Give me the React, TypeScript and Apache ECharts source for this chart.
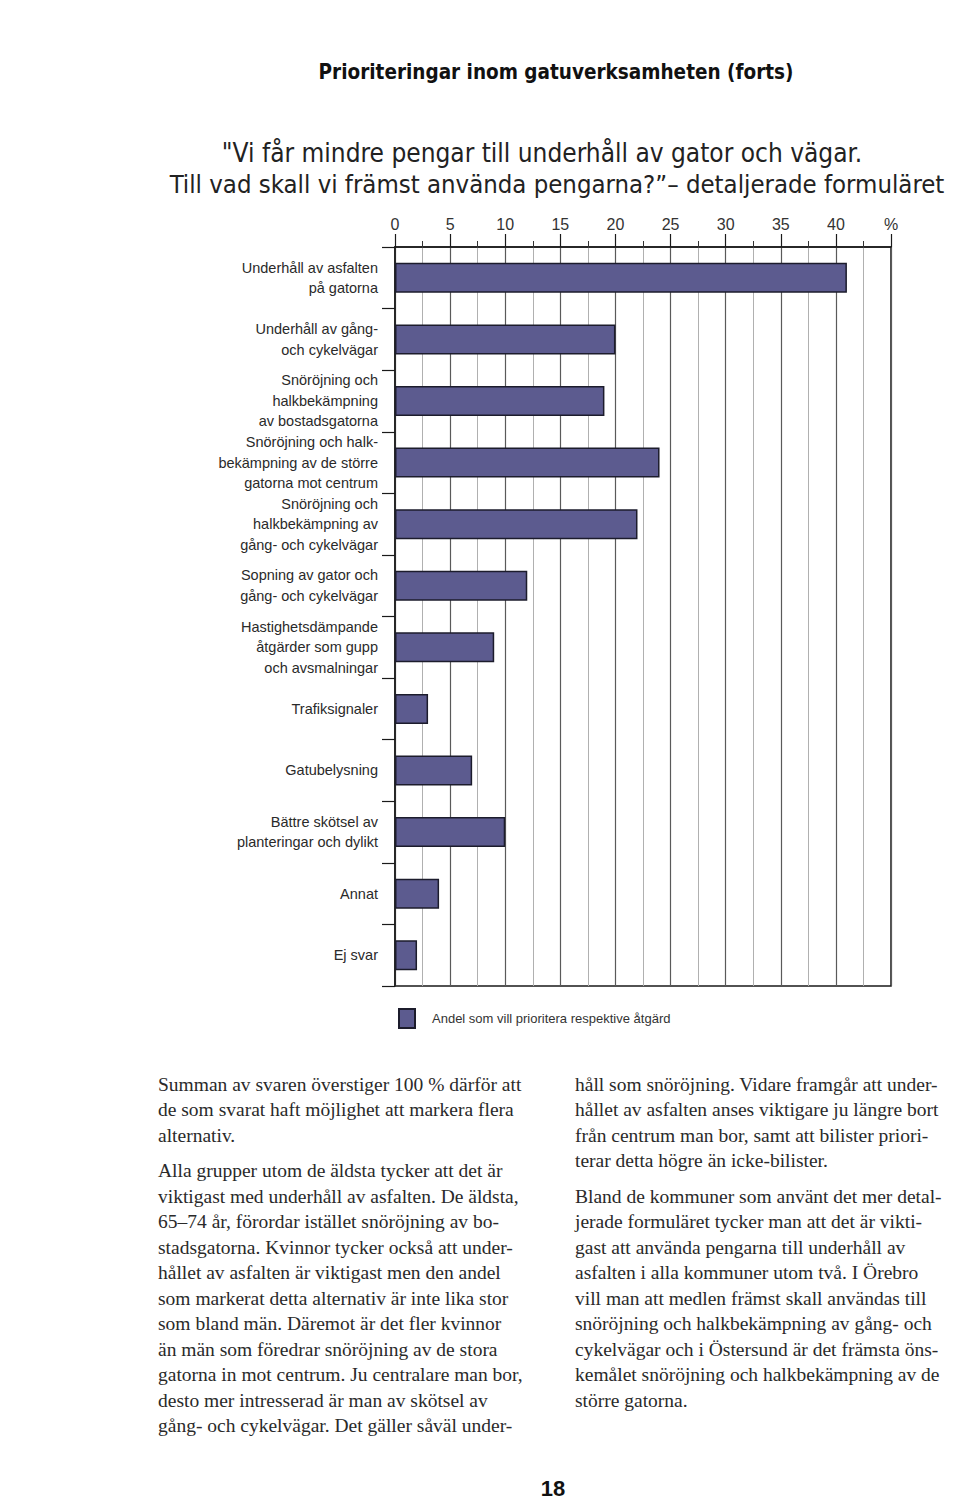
import React, { useEffect, useRef } from "react";
import * as echarts from "echarts";

const categories: string[] = [
  "Underhåll av asfalten\npå gatorna",
  "Underhåll av gång-\noch cykelvägar",
  "Snöröjning och\nhalkbekämpning\nav bostadsgatorna",
  "Snöröjning och halk-\nbekämpning av de större\ngatorna mot centrum",
  "Snöröjning och\nhalkbekämpning av\ngång- och cykelvägar",
  "Sopning av gator och\ngång- och cykelvägar",
  "Hastighetsdämpande\nåtgärder som gupp\noch avsmalningar",
  "Trafiksignaler",
  "Gatubelysning",
  "Bättre skötsel av\nplanteringar och dylikt",
  "Annat",
  "Ej svar",
];
const values: number[] = [41, 20, 19, 24, 22, 12, 9, 3, 7, 10, 4, 2];
const seriesName = "Andel som vill prioritera respektive åtgärd";
const axisMin = 0;
const axisMax = 45;
const axisStep = 5;
const unitLabel = "%";

const titleText = "Prioriteringar inom gatuverksamheten (forts)";
const subtitleLines: string[] = [
  "\"Vi får mindre pengar till underhåll av gator och vägar.",
  "Till vad skall vi främst använda pengarna?”– detaljerade formuläret",
];
const leftColumn: string[] = [
  "Summan av svaren överstiger 100 % därför att",
  "de som svarat haft möjlighet att markera flera",
  "alternativ.",
  "",
  "Alla grupper utom de äldsta tycker att det är",
  "viktigast med underhåll av asfalten. De äldsta,",
  "65–74 år, förordar istället snöröjning av bo-",
  "stadsgatorna. Kvinnor tycker också att under-",
  "hållet av asfalten är viktigast men den andel",
  "som markerat detta alternativ är inte lika stor",
  "som bland män. Däremot är det fler kvinnor",
  "än män som föredrar snöröjning av de stora",
  "gatorna in mot centrum. Ju centralare man bor,",
  "desto mer intresserad är man av skötsel av",
  "gång- och cykelvägar. Det gäller såväl under-",
];
const rightColumn: string[] = [
  "håll som snöröjning. Vidare framgår att under-",
  "hållet av asfalten anses viktigare ju längre bort",
  "från centrum man bor, samt att bilister priori-",
  "terar detta högre än icke-bilister.",
  "",
  "Bland de kommuner som använt det mer detal-",
  "jerade formuläret tycker man att det är vikti-",
  "gast att använda pengarna till underhåll av",
  "asfalten i alla kommuner utom två. I Örebro",
  "vill man att medlen främst skall användas till",
  "snöröjning och halkbekämpning av gång- och",
  "cykelvägar och i Östersund är det främsta öns-",
  "kemålet snöröjning och halkbekämpning av de",
  "större gatorna.",
];
const pageNumber = "18";

const SANS = '"Liberation Sans", Arial, Helvetica, sans-serif';
const NARROW = '"Liberation Sans Narrow", "DejaVu Sans Condensed", "Roboto Condensed", "Liberation Sans", sans-serif';
const SERIF = '"Liberation Serif", "Times New Roman", serif';

function columnTexts(lines: string[], x: number): any[] {
  const out: any[] = [];
  let y = 1084;
  lines.forEach((line) => {
    if (line === "") {
      y += 10;
      return;
    }
    out.push({
      type: "text",
      x,
      y,
      style: {
        text: line,
        font: `19.5px ${SERIF}`,
        fill: "#2a2a2a",
        textAlign: "left",
        textVerticalAlign: "middle",
      },
    });
    y += 25.5;
  });
  return out;
}

export default function App() {
  const ref = useRef<HTMLDivElement>(null);

  useEffect(() => {
    document.body.style.margin = "0";
    if (!ref.current) return;
    const chart = echarts.init(ref.current, undefined, { renderer: "svg" });

    const option: any = {
      animation: false,
      backgroundColor: "#ffffff",
      grid: {
        left: 395,
        top: 247,
        width: 496,
        height: 739,
        show: true,
        borderColor: "#1a1a1a",
        borderWidth: 1.5,
        backgroundColor: "transparent",
        containLabel: false,
      },
      legend: {
        show: true,
        left: 393,
        top: 1003,
        itemWidth: 16,
        itemHeight: 19,
        icon: "rect",
        data: [seriesName],
        textStyle: {
          fontSize: 13,
          color: "#333",
          fontFamily: SANS,
          padding: [0, 0, 0, 12],
        },
      },
      xAxis: {
        type: "value",
        position: "top",
        min: axisMin,
        max: axisMax,
        interval: axisStep,
        axisLine: { show: true, lineStyle: { color: "#1a1a1a", width: 1.5 } },
        axisTick: { show: true, length: 13, lineStyle: { color: "#1a1a1a", width: 1.2 } },
        minorTick: { show: true, splitNumber: 2, length: 6, lineStyle: { color: "#333", width: 1 } },
        axisLabel: {
          margin: 15,
          fontSize: 16,
          color: "#333",
          fontFamily: SANS,
          showMaxLabel: true,
          formatter: (v: number) => (v === axisMax ? unitLabel : String(v)),
        },
        splitLine: { show: true, lineStyle: { color: "#5a5a5a", width: 1.2 } },
        minorSplitLine: { show: true, lineStyle: { color: "#b0b0b0", width: 1 } },
      },
      yAxis: {
        type: "category",
        inverse: true,
        data: categories,
        axisLine: { show: true, lineStyle: { color: "#1a1a1a", width: 1.5 } },
        axisTick: {
          show: true,
          length: 13,
          alignWithLabel: false,
          interval: 0,
          lineStyle: { color: "#1a1a1a", width: 1.2 },
        },
        axisLabel: {
          margin: 17,
          fontSize: 14.5,
          lineHeight: 20.5,
          color: "#2a2a2a",
          fontFamily: SANS,
          align: "right",
          interval: 0,
        },
        splitLine: { show: false },
      },
      series: [
        {
          type: "bar",
          name: seriesName,
          data: values,
          barWidth: 30,
          itemStyle: { color: "#5c5b8f", borderColor: "#1c1c2c", borderWidth: 1.5 },
        },
      ],
      graphic: [
        {
          type: "text",
          x: 556,
          y: 72,
          style: {
            text: titleText,
            font: `bold 20.5px ${NARROW}`,
            fill: "#111",
            textAlign: "center",
            textVerticalAlign: "middle",
          },
        },
        {
          type: "text",
          x: 542,
          y: 153,
          style: {
            text: subtitleLines[0],
            font: `26px ${NARROW}`,
            fill: "#222",
            textAlign: "center",
            textVerticalAlign: "middle",
          },
        },
        {
          type: "text",
          x: 557,
          y: 184,
          style: {
            text: subtitleLines[1],
            font: `25.5px ${NARROW}`,
            fill: "#222",
            textAlign: "center",
            textVerticalAlign: "middle",
          },
        },
        ...columnTexts(leftColumn, 158),
        ...columnTexts(rightColumn, 575),
        {
          type: "text",
          x: 553,
          y: 1488,
          style: {
            text: pageNumber,
            font: `bold 22px ${SANS}`,
            fill: "#111",
            textAlign: "center",
            textVerticalAlign: "middle",
          },
        },
      ],
    };

    chart.setOption(option);
    return () => chart.dispose();
  }, []);

  return <div ref={ref} style={{ width: 960, height: 1501 }} />;
}
